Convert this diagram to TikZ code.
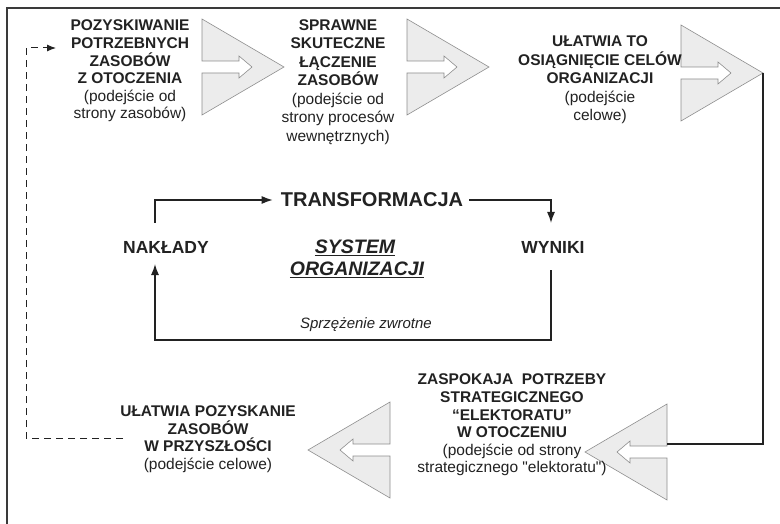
\documentclass[tikz,border=0pt]{standalone}
\usepackage{fontspec}
\setmainfont{Liberation Sans}
\newfontfamily\plainq{Liberation Sans}
\usetikzlibrary{arrows.meta}
\definecolor{ink}{HTML}{222222}
\definecolor{shade}{HTML}{ECECEC}
\definecolor{rim}{HTML}{8E8E8E}
\definecolor{framec}{HTML}{3A3A3A}
\begin{document}
\begin{tikzpicture}[x=1pt,y=-1pt,
  lbl/.style={align=center, text=ink, inner sep=0pt,
    font=\fontsize{15.5}{17.6}\selectfont},
  lblwide/.style={lbl, font=\fontsize{15.5}{18.5}\selectfont},
  big/.style={text=ink, inner sep=0pt, font=\bfseries\fontsize{20}{22}\selectfont},
  mid/.style={text=ink, inner sep=0pt, font=\bfseries\fontsize{17.5}{20}\selectfont},
  sysl/.style={text=ink, inner sep=0pt, font=\bfseries\itshape\fontsize{19.5}{22}\selectfont},
  conn/.style={draw=ink, line width=1.4pt},
  tip/.style={-{Latex[length=11pt,width=8pt]}},
  arrowfill/.style={fill=shade, draw=rim, line width=0.6pt, line join=miter},
  fatarrow/.pic={
    \path[arrowfill] (0,-48) -- (82,0) -- (0,48) -- (0,6) -- (37,6) -- (37,11)
      -- (50,0) -- (37,-11) -- (37,-6) -- (0,-6) -- cycle;
    \coordinate (-tip) at (82,0);
    \coordinate (-join) at (0,-8);
  }]
\useasboundingbox (0,0) rectangle (780,524);
\clip (0,0) rectangle (780,524);
\fill[white] (0,0) rectangle (780,524);

% outer frame
\draw[framec, line width=1.3pt] (7,540) -- (7,8) -- (800,8);

% broad arrows of the outer cycle
\pic (a1) at (202,67) {fatarrow};
\pic (a2) at (407,67) {fatarrow};
\pic (a3) at (681,73) {fatarrow};
\pic[xscale=-1] (a4) at (667,452) {fatarrow};
\pic[xscale=-1] (a5) at (390,450) {fatarrow};

% outer cycle texts
\node[lbl] (t1) at (130,71) {\textbf{POZYSKIWANIE}\\\textbf{POTRZEBNYCH}\\\textbf{ZASOBÓW}\\\textbf{Z OTOCZENIA}\\(podejście od\\strony zasobów)};
\node[lblwide] (t2) at (338,82) {\textbf{SPRAWNE}\\\textbf{SKUTECZNE}\\\textbf{ŁĄCZENIE}\\\textbf{ZASOBÓW}\\(podejście od\\strony procesów\\wewnętrznych)};
\node[lblwide] (t3) at (600,80) {\textbf{UŁATWIA TO}\\\textbf{OSIĄGNIĘCIE CELÓW}\\\textbf{ORGANIZACJI}\\(podejście\\celowe)};
\node[lbl] (t4) at (512,425) {\textbf{ZASPOKAJA\ \ POTRZEBY}\\\textbf{STRATEGICZNEGO}\\\textbf{“ELEKTORATU”}\\\textbf{W OTOCZENIU}\\(podejście od strony\\strategicznego {\plainq"}elektoratu{\plainq"})};
\node[lbl] (t5) at (208,439) {\textbf{UŁATWIA POZYSKANIE}\\\textbf{ZASOBÓW}\\\textbf{W PRZYSZŁOŚCI}\\(podejście celowe)};

% inner system loop
\node[big] (trans) at (372,200) {TRANSFORMACJA};
\node[mid] (nak) at (166,247) {NAKŁADY};
\node[mid] (wyn) at (553,247) {WYNIKI};
\node[sysl] (sys) at (355,248) {\underline{SYSTEM}};
\node[sysl] (org) at (357,270) {\underline{ORGANIZACJI}};
\node[text=ink, inner sep=0pt, font=\itshape\fontsize{15}{17}\selectfont] (fb) at (366,325) {Sprzężenie zwrotne};

\coordinate (nakTop) at (155,223);
\coordinate (nakBot) at (155,264);
\coordinate (wynTop) at (551,223);
\coordinate (wynBot) at (551,270);
\coordinate (fbLine) at (0,340);

\draw[conn, tip] (nakTop) |- ([xshift=-8pt]trans.west);
\draw[conn, tip] ([xshift=6pt]trans.east) -| (wynTop);
\draw[conn, tip] (wynBot) |- (fbLine -| nakBot) -- (nakBot);

% link from the goal arrow to the environment arrow
\draw[conn] (a3-tip) |- (a4-join);

% dashed return to the start of the cycle
\coordinate (dStart) at (123,438);
\coordinate (dCorner) at (26,438);
\coordinate (dEnd) at (56,48);
\draw[ink, line width=1pt, dash pattern=on 7pt off 5pt, -{Latex[length=9pt,width=7pt]}]
  (dStart) -- (dCorner) |- (dEnd);
\end{tikzpicture}
\end{document}
